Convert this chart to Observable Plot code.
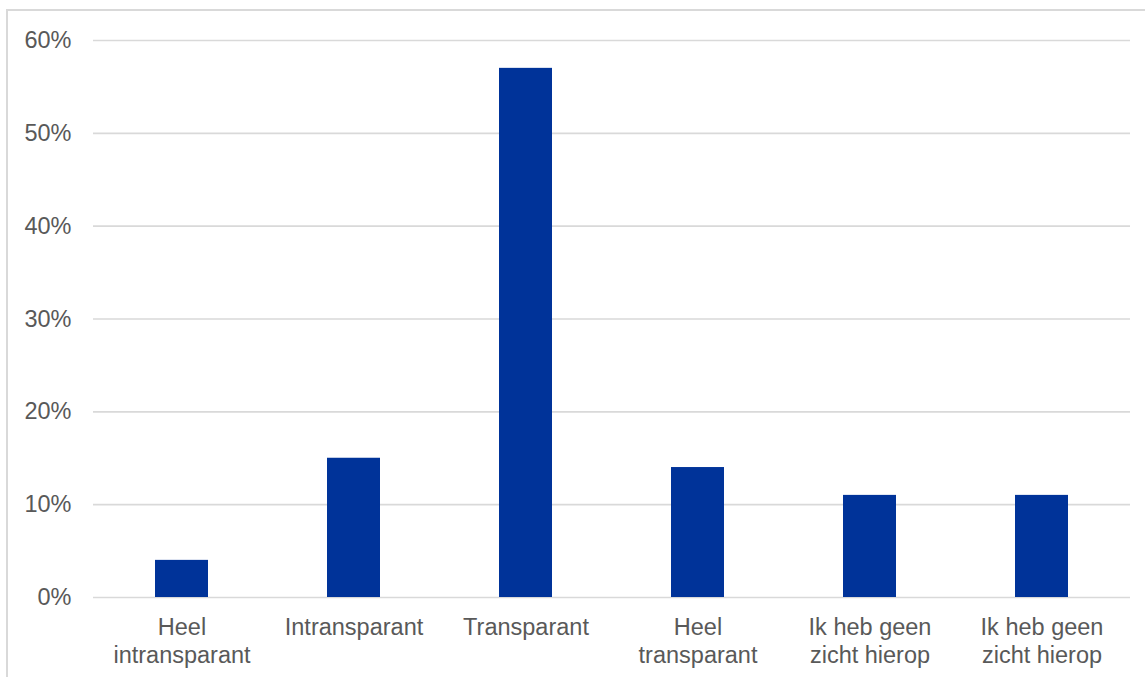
<!DOCTYPE html>
<html>
<head>
<meta charset="utf-8">
<script src="https://cdn.jsdelivr.net/npm/d3@7"></script>
<script src="https://cdn.jsdelivr.net/npm/@observablehq/plot@0.6"></script>
<style>
  html, body { margin: 0; padding: 0; background: #fff; overflow: hidden; }
  #wrap { position: relative; width: 1145px; height: 677px; }
  #frame { position: absolute; left: 6px; top: 9px; width: 1300px; height: 900px;
           border: 2px solid #d9d9d9; box-sizing: border-box; pointer-events: none; }
  svg text { font-family: "Liberation Sans", Arial, sans-serif; }
</style>
</head>
<body>
<div id="wrap"><div id="frame"></div></div>
<script>
// Survey answers (two answer options share the same wording)
const categories = [
  "Heel\nintransparant",
  "Intransparant",
  "Transparant",
  "Heel\ntransparant",
  "Ik heb geen\nzicht hierop",
  "Ik heb geen\nzicht hierop"
];
const shares = [0.04, 0.15, 0.57, 0.14, 0.11, 0.11];
const yTicks = [0, 0.1, 0.2, 0.3, 0.4, 0.5, 0.6];

const rows = categories.map((label, i) => ({i, label, value: shares[i]}));

const chart = Plot.plot({
  width: 1145,
  height: 677,
  marginLeft: 93,
  marginRight: 15,
  marginTop: 40,
  marginBottom: 80,
  style: {fontFamily: "Liberation Sans, Arial, sans-serif", fontSize: "23.5px", color: "#595959", background: "transparent"},
  x: {type: "band", domain: d3.range(categories.length), paddingInner: 0.69, paddingOuter: 0.345, label: null},
  y: {domain: [0, 0.6], label: null},
  marks: [
    Plot.gridY(yTicks, {stroke: "#d9d9d9", strokeOpacity: 1, strokeWidth: 1.6}),
    Plot.barY(rows, {x: "i", y: "value", fill: "#003399"}),
    Plot.axisY(yTicks, {tickSize: 0, tickPadding: 22, tickFormat: d3.format(".0%"), fill: "#595959", fontSize: 23.5, label: null}),
    Plot.axisX({tickSize: 0, tickPadding: 17, tickFormat: i => categories[i], fill: "#595959", fontSize: 23.5, lineHeight: 1.2, label: null})
  ]
});
document.getElementById("wrap").prepend(chart);
</script>
</body>
</html>
